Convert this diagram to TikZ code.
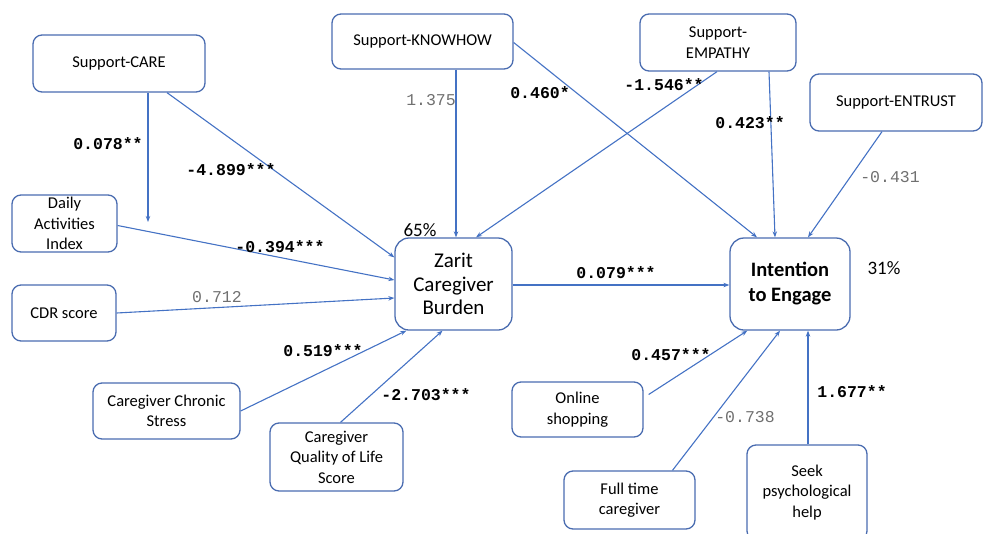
\documentclass[tikz,border=0pt]{standalone}
\usepackage{fontspec}
\setmainfont{Carlito}
\newfontfamily\monofont{Liberation Mono}
\usetikzlibrary{arrows.meta}
\definecolor{linkblue}{RGB}{68,114,196}
\definecolor{boxblue}{RGB}{74,108,176}
\definecolor{nsgray}{RGB}{112,112,112}
\tikzset{
  box/.style={draw=boxblue, line width=1.3pt, rounded corners=9pt, align=center,
    font=\fontsize{16.5}{20.5}\selectfont, inner sep=0pt},
  bigbox/.style={box, rounded corners=14pt, font=\fontsize{21}{23.5}\selectfont},
  link/.style={draw=linkblue, line width=1.1pt, -{Stealth[length=6pt,width=4.5pt]}},
  coef/.style={font=\monofont\bfseries\fontsize{16.5}{18}\selectfont, inner sep=0pt},
  nscoef/.style={font=\monofont\fontsize{16.5}{18}\selectfont, text=nsgray, inner sep=0pt},
  share/.style={font=\fontsize{19}{22}\selectfont, inner sep=0pt}
}
\begin{document}
\begin{tikzpicture}[x=1pt,y=-1pt]
\useasboundingbox (0,0) rectangle (985,533);

% outcome constructs
\node[bigbox, minimum width=117, minimum height=92] (zarit) at (453.5,284) {Zarit\\Caregiver\\Burden};
\node[bigbox, minimum width=120, minimum height=92, font=\fontsize{20.5}{25}\selectfont\bfseries] (intent) at (790,284) {Intention\\to Engage};

% predictors
\node[box, minimum width=172, minimum height=57] (care) at (119,63.5) {Support-CARE};
\node[box, minimum width=181, minimum height=55] (know) at (422.5,41.5) {Support-KNOWHOW};
\node[box, minimum width=156, minimum height=57] (empathy) at (718,42.5) {Support-\\EMPATHY};
\node[box, minimum width=172, minimum height=57] (entrust) at (896,102.5) {Support-ENTRUST};
\node[box, minimum width=105, minimum height=57] (daily) at (64.5,223.5) {Daily\\Activities\\Index};
\node[box, minimum width=104, minimum height=56] (cdr) at (64,313) {CDR score};
\node[box, minimum width=147, minimum height=56] (stress) at (166.5,411) {Caregiver Chronic\\Stress};
\node[box, minimum width=133, minimum height=68] (qol) at (336.5,457) {Caregiver\\Quality of Life\\Score};
\node[box, minimum width=131, minimum height=55] (online) at (577.5,409.5) {Online\\shopping};
\node[box, minimum width=131, minimum height=58] (fulltime) at (629.5,500) {Full time\\caregiver};
\node[box, minimum width=120, minimum height=95] (seek) at (807,492.5) {Seek\\psychological\\help};

\coordinate (careend) at (148,222);

% paths
\draw[link] ([xshift=29pt]care.south) -- (careend);
\draw[link] ([xshift=48pt]care.south) -- ([yshift=-20pt]zarit.north west);
\draw[link] ([yshift=-2pt]daily.east) -- ([yshift=4pt]zarit.west);
\draw[link] (cdr.east) -- ([yshift=-14pt]zarit.west);
\draw[link] (stress.east) -- ([xshift=12pt]zarit.south west);
\draw[link] ([xshift=4pt]qol.north) -- ([xshift=-11pt]zarit.south);
\draw[link] ([xshift=33.5pt]know.south) -- ([xshift=2.5pt]zarit.north);
\draw[link] ([xshift=-1pt]empathy.south) -- ([xshift=22.5pt]zarit.north);
\draw[link] ([yshift=-1pt]know.east) -- ([xshift=-33pt]intent.north);
\draw[link] ([xshift=51pt]empathy.south) -- ([xshift=-15pt]intent.north);
\draw[link] ([xshift=-14pt]entrust.south) -- ([xshift=18pt]intent.north);
\draw[link] ([yshift=-1pt]zarit.east) -- ([yshift=-1pt]intent.west);
\draw[link] ([xshift=5pt,yshift=15pt]online.east) -- ([xshift=18pt]intent.south west);
\draw[link] ([xshift=43pt]fulltime.north) -- ([xshift=-10pt]intent.south);
\draw[link] ([xshift=1pt]seek.north) -- ([xshift=18pt]intent.south);

% path coefficients
\node[coef] (c1) at (108,144) {0.078**};
\node[coef] (c2) at (231,170) {-4.899***};
\node[coef] (c3) at (280,247) {-0.394***};
\node[nscoef] (c4) at (217,297) {0.712};
\node[coef] (c5) at (323,351) {0.519***};
\node[coef] (c6) at (426,395) {-2.703***};
\node[nscoef] (c7) at (431,100) {1.375};
\node[coef] (c8) at (540,93) {0.460*};
\node[coef] (c9) at (664,85) {-1.546**};
\node[coef] (c10) at (750,123) {0.423**};
\node[nscoef] (c11) at (890,177) {-0.431};
\node[coef] (c12) at (616,273) {0.079***};
\node[coef] (c13) at (671,355) {0.457***};
\node[nscoef] (c14) at (745,417) {-0.738};
\node[coef] (c15) at (852,392) {1.677**};

% explained variance
\node[share] (r1) at (420,230) {65\%};
\node[share] (r2) at (884,268) {31\%};
\end{tikzpicture}
\end{document}
